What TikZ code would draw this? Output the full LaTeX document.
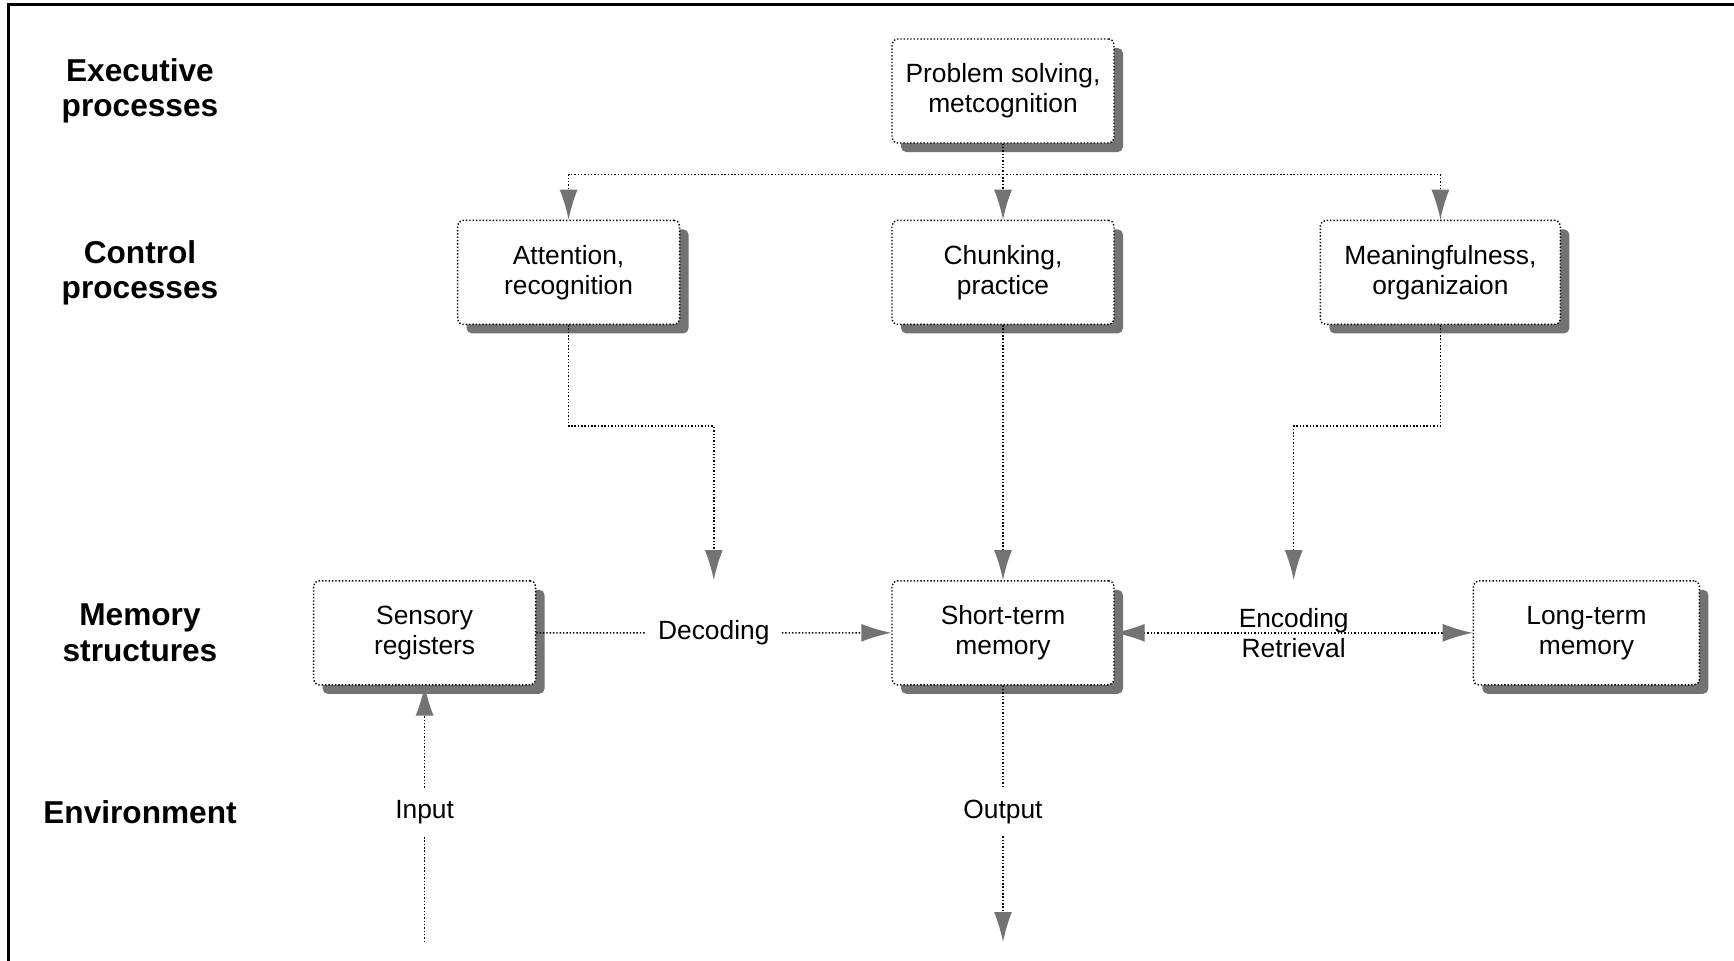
\documentclass[tikz,border=0pt]{standalone}
\usepackage{fontspec}
\setmainfont{Liberation Sans}
\usetikzlibrary{arrows.meta, positioning, calc, shadows}
\tikzset{
    dotline/.style={line width=0.4pt, dash pattern=on 0.4pt off 0.55pt},
    box/.style={rectangle, draw, dotline, fill=white, align=center, rounded corners=1.5pt, minimum width=2.22cm, minimum height=1.04cm, drop shadow={shadow xshift=0.09cm, shadow yshift=-0.09cm, fill=black!55, opacity=1}},
    rowlabel/.style={align=center, font=\fontsize{9}{10}\selectfont\bfseries},
    lbl/.style={align=center},
    arrow/.style={dotline, -{Latex[length=0.3cm, width=0.18cm, fill=black!55, color=black!55]}},
    dblarrow/.style={dotline, {Latex[length=0.3cm, width=0.18cm, fill=black!55, color=black!55]}-{Latex[length=0.3cm, width=0.18cm, fill=black!55, color=black!55]}},
}
\begin{document}
\begin{tikzpicture}[node distance=1cm, font=\fontsize{7.5}{8.5}\selectfont]
\useasboundingbox (0,0) rectangle (17.34,-9.61);

% Frame
\draw[line width=0.85pt] (0.088,-9.61) -- (0.088,-0.045) -- (17.34,-0.045);

% Executive processes
\node[box] (exec) at (10.03,-0.91) {Problem solving,\\metcognition};

% Control processes
\node[box, below=0.76cm of exec] (chunk) {Chunking,\\practice};
\node[box, left=2.11cm of chunk] (attn) {Attention,\\recognition};
\node[box, right=2.05cm of chunk, minimum width=2.4cm] (mean) {Meaningfulness,\\organizaion};

% Memory structures
\node[box, below=2.55cm of chunk] (stm) {Short-term\\memory};
\node[box, left=3.55cm of stm] (sens) {Sensory\\registers};
\node[box, right=3.58cm of stm, minimum width=2.26cm] (ltm) {Long-term\\memory};
\node[lbl] (dec) at ($(sens.east)!0.5!(stm.west)$) {Decoding};
\node[lbl] (enc) at ($(stm.east)!0.5!(ltm.west)$) {Encoding\\Retrieval};

% Row labels
\node[rowlabel] (lexec) at (1.40,0 |- exec) {Executive\\processes};
\node[rowlabel] (lctrl) at (1.40,0 |- chunk) {Control\\processes};
\node[rowlabel] (lmem) at (1.40,0 |- stm) {Memory\\structures};
\node[rowlabel] (lenv) at (1.40,-8.12) {Environment};

% Environment
\node[lbl] (input) at (sens |- lenv) {Input};
\node[lbl] (output) at (stm |- lenv) {Output};
\coordinate (inend) at (sens |- 0,-9.42);
\coordinate (outend) at (stm |- 0,-9.42);

% Executive to control
\coordinate (bus) at ($(exec.south)+(0,-0.31)$);
\draw[arrow] (exec) -- (chunk);
\draw[arrow] (bus) -| (attn);
\draw[arrow] (bus) -| (mean);

% Control to memory
\coordinate (dectop) at (dec |- stm.north);
\coordinate (enctop) at (enc |- stm.north);
\draw[arrow] (attn.south) -- ++(0,-1.01) -| (dectop);
\draw[arrow] (chunk) -- (stm);
\draw[arrow] (mean.south) -- ++(0,-1.01) -| (enctop);

% Memory structures
\draw[dotline] (sens) -- (dec);
\draw[arrow] (dec) -- (stm);
\draw[dblarrow] (stm) -- (ltm);

% Input and output
\draw[dotline] (inend) -- (input);
\draw[arrow] (input) -- (sens);
\draw[dotline] (stm) -- (output);
\draw[arrow] (output) -- (outend);

\end{tikzpicture}
\end{document}
